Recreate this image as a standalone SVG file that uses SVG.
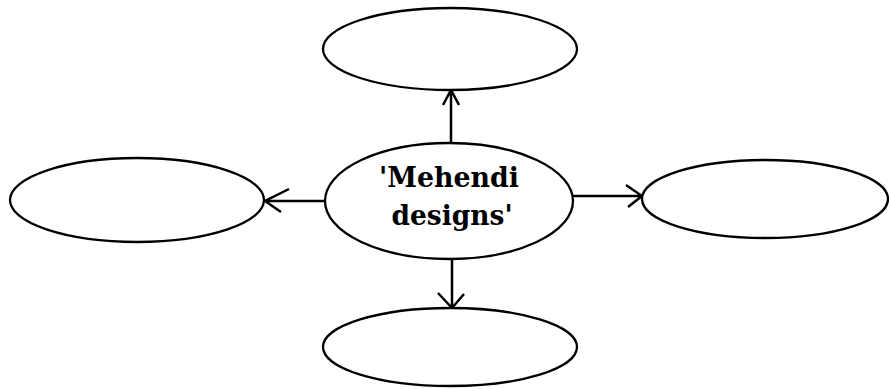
<svg xmlns="http://www.w3.org/2000/svg" width="889" height="389" viewBox="0 0 889 389">
<style>
.n{fill:#fff;stroke:#000;stroke-width:2.3}
.c{fill:none;stroke:#000;stroke-width:2.5;stroke-linecap:butt}
.t{font-family:"DejaVu Serif","Liberation Serif",serif;font-weight:bold;font-size:27px;fill:#000;text-anchor:middle}
</style>
<rect width="889" height="389" fill="#fff"/>
<g id="connectors">
<path class="c" d="M451 143V90M443 105L451 90L459 105"/>
<path class="c" d="M452 260V308M438 293L452 308L464 294"/>
<path class="c" d="M326 201H265M289 189L265 201L281 212"/>
<path class="c" d="M573 196H642M626 185L642 196L628 207"/>
</g>
<g id="center"><ellipse class="n" cx="449" cy="201" rx="124" ry="58"/>
<text class="t" x="449" y="187" textLength="140" lengthAdjust="spacingAndGlyphs">'Mehendi</text>
<text class="t" x="452" y="225" textLength="121" lengthAdjust="spacingAndGlyphs">designs'</text></g>
<g id="top"><ellipse class="n" cx="450" cy="49" rx="127" ry="41"/></g>
<g id="right"><ellipse class="n" cx="765" cy="199" rx="123" ry="39"/></g>
<g id="left"><ellipse class="n" cx="137" cy="200" rx="127" ry="42"/></g>
<g id="bottom"><ellipse class="n" cx="450" cy="347" rx="127" ry="39"/></g>
</svg>
